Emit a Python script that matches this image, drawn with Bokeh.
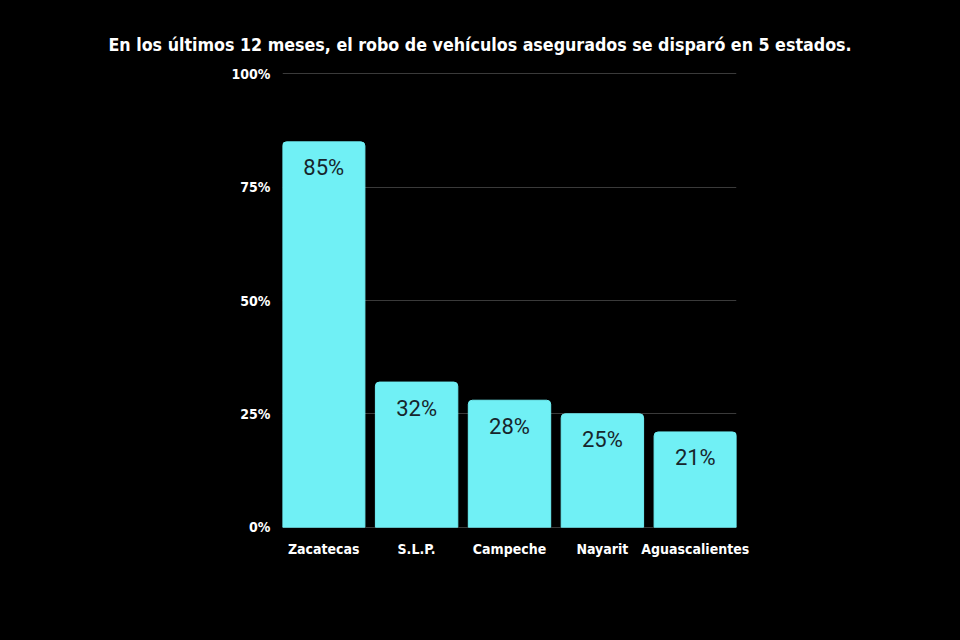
from bokeh.plotting import figure
from bokeh.models import ColumnDataSource, FactorRange, NumeralTickFormatter, FixedTicker
from bokeh.core.properties import value
from bokeh.embed import file_html
from bokeh.resources import INLINE

title_text = "En los últimos 12 meses, el robo de vehículos asegurados se disparó en 5 estados."
states = ["Zacatecas", "S.L.P.", "Campeche", "Nayarit", "Aguascalientes"]
values = [85, 32, 28, 25, 21]
labels = ["85%", "32%", "28%", "25%", "21%"]
y_ticks = [0, 25, 50, 75, 100]

COND = "DejaVu Sans Condensed"

src = ColumnDataSource(dict(x=states, top=values, lab=labels))

p = figure(x_range=FactorRange(*states, range_padding=-0.0226), y_range=(-0.3, 100.3),
           width=960, height=640, output_backend="svg", toolbar_location=None,
           min_border_left=282, min_border_right=224, min_border_top=72, min_border_bottom=112,
           background_fill_color="black", border_fill_color="black")
p.styles = {"background-color": "black"}
p.outline_line_color = None

p.vbar(x="x", top="top", width=0.887, source=src, color="#70F0F5",
       border_radius=(4, 4, 0, 0))
p.text(x="x", y="top", text="lab", source=src, text_align="center", text_baseline="middle",
       y_offset=26, text_color="#17252c", text_font=value("Roboto"), text_font_size="22px")

p.xgrid.visible = False
p.ygrid.grid_line_color = "#3a3a3a"
p.ygrid.grid_line_width = 1
p.yaxis.ticker = FixedTicker(ticks=y_ticks)
p.yaxis.formatter = NumeralTickFormatter(format="0")
p.yaxis.major_label_overrides = {t: f"{t}%" for t in y_ticks}
for ax in (p.xaxis[0], p.yaxis[0]):
    ax.axis_line_color = None
    ax.major_tick_line_color = None
    ax.minor_tick_line_color = None
    ax.major_label_text_color = "white"
    ax.major_label_text_font = COND
    ax.major_label_text_font_style = "bold"
    ax.major_label_text_font_size = "14px"
p.yaxis.major_label_standoff = 6
p.xaxis.major_label_standoff = 6

p.title.text = title_text
p.title.align = "left"
p.title.offset = -174
p.title.text_color = "white"
p.title.text_font = COND
p.title.text_font_style = "bold"
p.title.text_font_size = "17.7px"
p.title.standoff = 36

open("out.html", "w").write(file_html(p, INLINE))
